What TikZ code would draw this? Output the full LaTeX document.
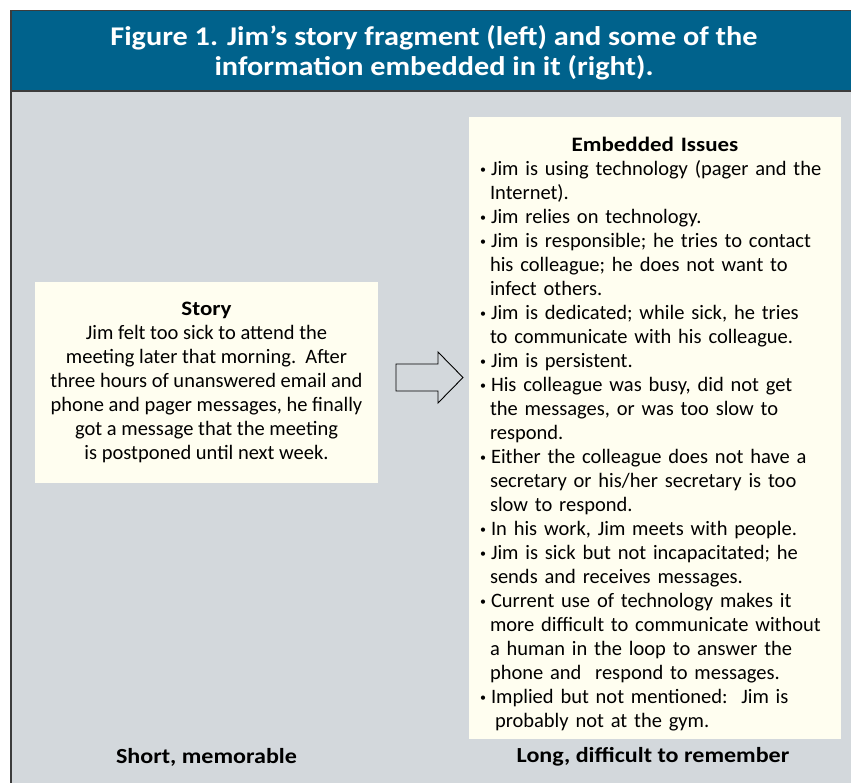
\documentclass[tikz,border=0pt]{standalone}
\usepackage{fontspec}
\setmainfont{Carlito}[BoldFeatures={FakeStretch=1.12}]
\usepackage{tikz}
\usetikzlibrary{positioning, calc}
\definecolor{headblue}{RGB}{0,98,140}
\definecolor{panelgray}{RGB}{211,216,220}
\definecolor{cream}{RGB}{255,254,240}
\definecolor{framedark}{RGB}{60,60,60}
\tikzset{
  panel/.style={
    rectangle, fill=cream, draw=none, inner sep=0pt,
    font=\fontsize{20.5}{24}\selectfont
  },
  caption/.style={
    font=\fontsize{21.5}{24}\selectfont\bfseries, text=black
  },
  blockarrow/.style={
    draw=black, fill=panelgray, line width=0.9pt, line join=miter
  }
}
\newcommand{\issue}[1]{\par\hangindent=10pt\hangafter=1\noindent\makebox[11pt][l]{\raisebox{1.5pt}{\fontsize{12}{12}\selectfont\textbullet}}#1}

\begin{document}
\begin{tikzpicture}[
  x=1pt, y=-1pt,
  node distance=6pt,
  headline/.style={text=white, font=\fontsize{27}{30}\selectfont\bfseries, align=center}
]
\useasboundingbox (0,0) rectangle (851,783);
\fill[white] (0,0) rectangle (851,783);
\fill[panelgray] (10,11) rectangle (851,783);
\fill[headblue] (10,11) rectangle (851,91);
\draw[framedark, line width=1pt] (851,11) -- (10,11);
\draw[framedark, line width=2pt] (11,11) -- (11,783);
\draw[framedark, line width=1.5pt] (10,91) -- (851,91);
\node[headline] (title) at (434,53) {Figure 1. Jim's story fragment (left) and some of the\\information embedded in it (right).};
\node[panel, align=center, minimum width=343pt, minimum height=201pt] (story) at (206.5,382.5) {%
  \textbf{Story}\\
  Jim felt too sick to attend the\\
  meeting later that morning.\ \ After\\
  three hours of unanswered email and\\
  phone and pager messages, he finally\\
  got a message that the meeting\\
  is postponed until next week.};
\node[panel, text width=350pt, inner xsep=11pt, minimum height=622pt] (issues) at (655,428) {%
  \raggedright
  {\centering\rule{0pt}{26pt}\textbf{Embedded Issues}\par}
  \issue{Jim is using technology (pager and the\newline Internet).}
  \issue{Jim relies on technology.}
  \issue{Jim is responsible; he tries to contact\newline his colleague; he does not want to\newline infect others.}
  \issue{Jim is dedicated; while sick, he tries\newline to communicate with his colleague.}
  \issue{Jim is persistent.}
  \issue{His colleague was busy, did not get\newline the messages, or was too slow to\newline respond.}
  \issue{Either the colleague does not have a\newline secretary or his/her secretary is too\newline slow to respond.}
  \issue{In his work, Jim meets with people.}
  \issue{Jim is sick but not incapacitated; he\newline sends and receives messages.}
  \issue{Current use of technology makes it\newline more difficult to communicate without\newline a human in the loop to answer the\newline phone and\ \ respond to messages.}
  \issue{Implied but not mentioned:\ \ Jim is\newline\hspace*{5pt}probably not at the gym.}\par};
\draw[blockarrow] (396,364) -- (438,364) -- (438,352) -- (463,377.5) -- (438,403) -- (438,391) -- (396,391) -- cycle;
\node[caption] (longlbl) at (653,757) {Long, difficult to remember};
\node[caption] (shortlbl) at (story |- longlbl) {Short, memorable};
\end{tikzpicture}
\end{document}
